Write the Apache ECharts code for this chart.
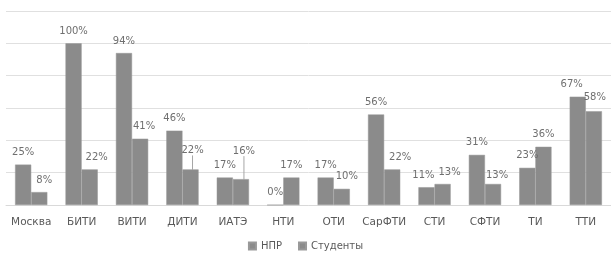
<!DOCTYPE html>
<html>
<head>
<meta charset="utf-8">
<script src="https://cdn.jsdelivr.net/npm/echarts@6/dist/echarts.min.js"></script>
<style>
  html, body { margin: 0; padding: 0; background: #fff; }
  #chart { width: 611px; height: 256px; }
</style>
</head>
<body>
<div id="chart"></div>
<script>
// категории и значения (в %)
const categories = ["Москва", "БИТИ", "ВИТИ", "ДИТИ", "ИАТЭ", "НТИ", "ОТИ", "СарФТИ", "СТИ", "СФТИ", "ТИ", "ТТИ"];
const nprValues = [25, 100, 94, 46, 17, 0, 17, 56, 11, 31, 23, 67];
const studentValues = [8, 22, 41, 22, 16, 17, 10, 22, 13, 13, 36, 58];
const seriesNames = ["НПР", "Студенты"];

// сдвиги подписей как в исходнике (dx, dy)
const nprLabelShift = { 8: [-3, 0], 11: [-6, 0] };
const studentLabelShift = {
  0: [5, 0], 1: [7, 0], 2: [4, 0], 3: [2, -7], 4: [3, -16],
  6: [5, 0], 7: [8, 0], 8: [7, 0], 9: [4, 3], 11: [1, -2]
};
const withLeader = [3, 4]; // подписи с выноской

const chart = echarts.init(document.getElementById("chart"));
const barColor = "#8b8b8b";
const labelStyle = {
  show: true,
  position: "top",
  distance: 7,
  formatter: "{c}%",
  fontFamily: "DejaVu Sans",
  fontSize: 10,
  color: "#6f6f6f"
};

function layoutFor(shifts) {
  return function(params) {
    const s = shifts[params.dataIndex];
    if (!s) return {};
    return { dx: s[0], dy: s[1] };
  };
}

const studentData = studentValues.map((v, i) =>
  withLeader.indexOf(i) >= 0
    ? { value: v, labelLine: { show: true, lineStyle: { color: "#a6a6a6", width: 1 } } }
    : v
);

chart.setOption({
  animation: false,
  color: [barColor, barColor],
  grid: { left: 6, right: 0, top: 11, bottom: 51 },
  legend: {
    bottom: 0,
    left: "center",
    data: seriesNames,
    icon: "rect",
    itemWidth: 7,
    itemHeight: 7,
    itemGap: 16,
    textStyle: { fontFamily: "DejaVu Sans", fontSize: 10, color: "#595959" }
  },
  xAxis: {
    type: "category",
    data: categories,
    axisLine: { lineStyle: { color: "#d9d9d9" } },
    axisTick: { show: false },
    axisLabel: {
      margin: 12,
      interval: 0,
      fontFamily: "DejaVu Sans",
      fontSize: 10.5,
      color: "#595959"
    }
  },
  yAxis: {
    type: "value",
    min: 0,
    max: 120,
    interval: 20,
    axisLabel: { show: false },
    axisLine: { show: false },
    splitLine: { lineStyle: { color: "#e0e0e0" } }
  },
  series: [
    {
      name: seriesNames[0],
      type: "bar",
      data: nprValues,
      barGap: "0%",
      barCategoryGap: "36%",
      itemStyle: { color: barColor, borderColor: "#999999", borderWidth: 0.5 },
      label: labelStyle,
      labelLayout: layoutFor(nprLabelShift)
    },
    {
      name: seriesNames[1],
      type: "bar",
      data: studentData,
      itemStyle: { color: barColor, borderColor: "#999999", borderWidth: 0.5 },
      label: labelStyle,
      labelLayout: layoutFor(studentLabelShift)
    }
  ]
});
</script>
</body>
</html>
